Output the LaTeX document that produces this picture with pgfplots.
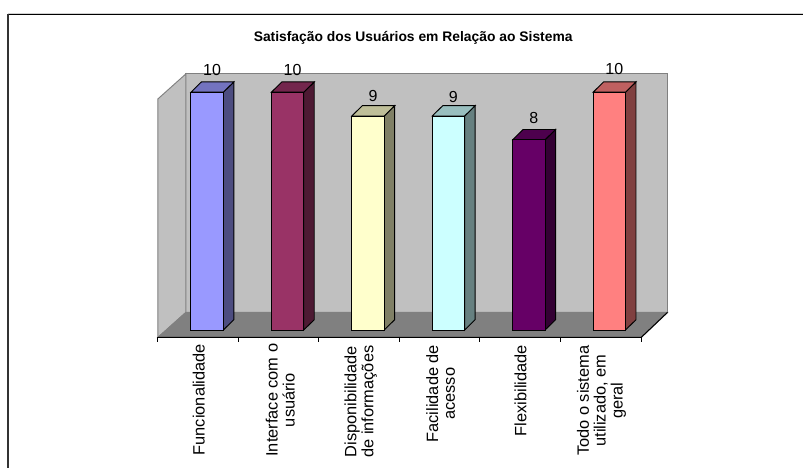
\documentclass[border=0pt]{standalone}
\usepackage{pgfplots}
\pgfplotsset{compat=1.18}
\usepackage{fontspec}
\setmainfont{Liberation Sans}

\definecolor{wall}{HTML}{C0C0C0}
\definecolor{floorgray}{HTML}{808080}
\definecolor{aF}{HTML}{9999FF}\definecolor{aS}{HTML}{4D4D80}\definecolor{aT}{HTML}{7373BF}
\definecolor{bF}{HTML}{993366}\definecolor{bS}{HTML}{4D1A33}\definecolor{bT}{HTML}{73264D}
\definecolor{cF}{HTML}{FFFFCC}\definecolor{cS}{HTML}{808066}\definecolor{cT}{HTML}{BFBF99}
\definecolor{dF}{HTML}{CCFFFF}\definecolor{dS}{HTML}{668080}\definecolor{dT}{HTML}{99BFBF}
\definecolor{eF}{HTML}{660066}\definecolor{eS}{HTML}{330033}\definecolor{eT}{HTML}{4D004D}
\definecolor{fF}{HTML}{FF8080}\definecolor{fS}{HTML}{804040}\definecolor{fT}{HTML}{BF6060}

% One bar of the column chart: front face from the value, then the side and top faces.
% Arguments: position, value, front, side and top colours, height of the value label.
\newcommand{\threedbar}[6]{%
  \pgfmathsetmacro{\xl}{#1-0.2012}%
  \pgfmathsetmacro{\xr}{#1+0.2012}%
  \pgfmathsetmacro{\xlb}{#1-0.2012+0.1304}%
  \pgfmathsetmacro{\xrb}{#1+0.2012+0.1304}%
  \pgfmathsetmacro{\yt}{#2+0.4328}%
  \addplot[draw=black, line width=0.7pt, fill=#4] coordinates {(\xr,0) (\xrb,0.4328) (\xrb,\yt) (\xr,#2)} -- cycle;
  \addplot[draw=black, line width=0.7pt, fill=#5] coordinates {(\xl,#2) (\xr,#2) (\xrb,\yt) (\xlb,\yt)} -- cycle;
  \addplot[ybar, bar width=0.4024, bar shift=0pt, draw=black, line width=0.7pt, fill=#3,
    nodes near coords,
    every node near coord/.style={anchor=center, xshift=3.75pt, yshift=#6, text=black,
      font=\fontsize{12}{12}\selectfont}]
    coordinates {(#1,#2)};
}

% Rotated category label placed by its centre.
\newcommand{\catlabel}[3]{%
  \node[rotate=90, align=center, inner sep=0pt, anchor=center,
    font=\fontsize{12.3}{12.75}\selectfont]
    at (axis cs:{(#1-207.3)/80.5},{(330.3-#2)/23.8}) {#3};
}

\begin{document}
\begin{tikzpicture}
\begin{axis}[
  scale only axis, width=603pt, height=351pt,
  xmin=-2.5752, xmax=7.4124, ymin=-5.7857, ymax=13.878,
  hide axis, clip=false,
  /pgf/number format/assume math mode=true,
]
  % Page area
  \path (axis cs:-2.5752,-5.7857) rectangle (axis cs:7.4124,13.878);

  % Walls and floor
  \addplot[draw=floorgray, line width=0.7pt, fill=wall] coordinates {(-0.2646,0.7395) (5.723,0.7395) (5.723,10.769) (-0.2646,10.769)} -- cycle;
  \addplot[draw=floorgray, line width=0.7pt, fill=wall] coordinates {(-0.612,-0.311) (-0.2646,0.7395) (-0.2646,10.769) (-0.612,9.718)} -- cycle;
  \addplot[draw=floorgray, line width=0.7pt, fill=floorgray] coordinates {(-0.612,-0.311) (5.3963,-0.311) (5.723,0.7395) (-0.2646,0.7395)} -- cycle;

  % Bars
  \threedbar{0}{10}{aF}{aS}{aT}{16.8pt}
  \threedbar{1}{10}{bF}{bS}{bT}{16.8pt}
  \threedbar{2}{9}{cF}{cS}{cT}{15pt}
  \threedbar{3}{9}{dF}{dS}{dT}{14.5pt}
  \threedbar{4}{8}{eF}{eS}{eT}{16.5pt}
  \threedbar{5}{10}{fF}{fS}{fT}{17.5pt}

  % Category axis line and tick marks
  \draw[black, line width=0.8pt] (axis cs:-0.612,-0.311) -- (axis cs:5.3963,-0.311) -- (axis cs:5.723,0.7395);
  \pgfplotsinvokeforeach{-0.612,0.3889,1.3889,2.3889,3.3889,4.3889,5.3963}{
    \draw[black, line width=0.8pt] (axis cs:#1,-0.311) -- (axis cs:#1,-0.521);
  }

  % Category names
  \catlabel{199}{400}{Funcionalidade}
  \catlabel{280.5}{400.5}{Interface com o\\usuário}
  \catlabel{361}{402}{Disponibilidade\\de informações}
  \catlabel{441}{394}{Facilidade de\\acesso}
  \catlabel{521}{391}{Flexibilidade}
  \catlabel{602}{401}{Todo o sistema\\utilizado, em\\geral}

  % Title
  \node[font=\bfseries\fontsize{10.4}{12}\selectfont, anchor=center]
    at (axis cs:{(413.5-207.3)/80.5},{(330.3-38)/23.8}) {Satisfação dos Usuários em Relação ao Sistema};

  % Page frame lines
  \draw[color=black!18, line width=0.75pt] (axis cs:-2.4758,13.31) -- (axis cs:7.4124,13.31);
  \draw[black, line width=1pt] (axis cs:-2.4758,13.269) -- (axis cs:7.4124,13.269);
  \draw[black!80, line width=1.5pt] (axis cs:-2.4758,13.29) -- (axis cs:-2.4758,-5.7857);
\end{axis}
\end{tikzpicture}
\end{document}
